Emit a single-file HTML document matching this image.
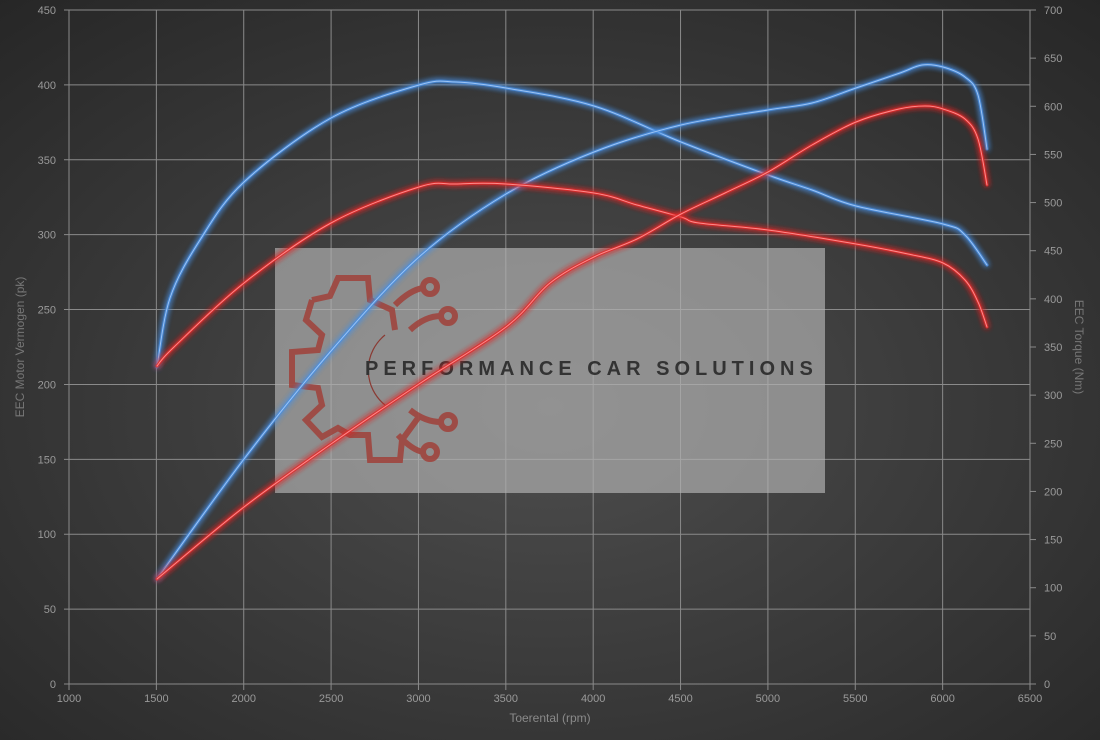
<!DOCTYPE html>
<html><head><meta charset="utf-8"><style>
html,body{margin:0;padding:0;background:#333}
svg{display:block;font-family:"Liberation Sans",sans-serif}
</style></head><body>
<svg id="s" width="1100" height="740" viewBox="0 0 1100 740" xmlns="http://www.w3.org/2000/svg">
<defs>
<radialGradient id="bg" cx="0.5" cy="0.55" r="0.75">
<stop offset="0" stop-color="#4e4e4e"/><stop offset="1" stop-color="#262626"/>
</radialGradient>
<filter id="glow" x="-10%" y="-10%" width="120%" height="120%">
<feGaussianBlur stdDeviation="3" result="b"/>
<feMerge><feMergeNode in="b"/><feMergeNode in="b"/><feMergeNode in="SourceGraphic"/></feMerge>
</filter>
</defs>
<rect width="1100" height="740" fill="url(#bg)"/>
<g id="grid" stroke="#8a8a8a" stroke-width="1"></g>
<g id="labels" fill="#9a9a9a" font-size="11"></g>
<rect x="275" y="248" width="550" height="245" fill="rgba(178,178,178,0.68)"/>
<g fill="none" stroke="#a0413a" stroke-width="6" opacity="0.85">
<path d="M312 300 L330 296 L338 278 L368 278 L370 300 L392 310 L395 330 M312 300 L306 320 L322 335 L318 350 L292 352 L292 385 L318 388 L322 405 L306 420 L322 437 L338 428 L350 435 L368 435 L370 460 L400 460 L402 440 L418 418"/>
<circle cx="430" cy="287" r="7"/><circle cx="448" cy="316" r="7"/><circle cx="448" cy="422" r="7"/><circle cx="430" cy="452" r="7"/>
<path d="M395 305 Q410 290 423 288 M410 330 Q425 316 441 316 M410 410 Q425 422 441 422 M398 435 Q412 450 423 452"/>
</g>
<path d="M385 335 A45 45 0 0 0 385 405" fill="none" stroke="#8a3a33" stroke-width="1.2"/>
<text x="365" y="375" font-size="20" font-weight="bold" letter-spacing="5" fill="#333">PERFORMANCE CAR SOLUTIONS</text>
<g id="curves" fill="none" stroke-linecap="round" stroke-linejoin="round"></g>
<text x="550" y="722" text-anchor="middle" font-size="12" fill="#8a8a8a">Toerental (rpm)</text>
<text transform="translate(24,347) rotate(-90)" text-anchor="middle" font-size="12" fill="#777">EEC Motor Vermogen (pk)</text>
<text transform="translate(1075,347) rotate(90)" text-anchor="middle" font-size="12" fill="#777">EEC Torque (Nm)</text>
</svg>
<script>
var NS="http://www.w3.org/2000/svg";
function el(p,t,a,txt){var e=document.createElementNS(NS,t);for(var k in a)e.setAttribute(k,a[k]);if(txt!=null)e.textContent=txt;p.appendChild(e);return e;}
var g=document.getElementById('grid'),L=document.getElementById('labels');
function X(r){return 69+(r-1000)*961/5500;}
for(var r=1000;r<=6500;r+=500){var x=X(r);el(g,'line',{x1:x,y1:10,x2:x,y2:690});el(L,'text',{x:x,y:702,'text-anchor':'middle'},r);}
for(var p=0;p<=450;p+=50){var y=684-p*674/450;el(g,'line',{x1:64,y1:y,x2:1030,y2:y});el(L,'text',{x:56,y:y+4,'text-anchor':'end'},p);}
for(var t=0;t<=700;t+=50){var y=684-t*674/700;el(g,'line',{x1:1030,y1:y,x2:1036,y2:y});el(L,'text',{x:1044,y:y+4},t);}
el(g,'line',{x1:1030,y1:10,x2:1030,y2:684});
function path(pts){var d="M"+pts[0][0]+" "+pts[0][1];for(var i=0;i<pts.length-1;i++){var p0=pts[i-1]||pts[i],p1=pts[i],p2=pts[i+1],p3=pts[i+2]||p2;
d+=" C"+(p1[0]+(p2[0]-p0[0])/6)+" "+(p1[1]+(p2[1]-p0[1])/6)+" "+(p2[0]-(p3[0]-p1[0])/6)+" "+(p2[1]-(p3[1]-p1[1])/6)+" "+p2[0]+" "+p2[1];}return d;}
var C=document.getElementById('curves');
var blueA=[[157,367],[170,298],[200,240],[244,182],[331,118],[419,85],[456,82],[506,88],[594,106],[681,142],[768,175],[812,190],[856,206],[943,224],[965,235],[987,265]];
var blueB=[[157,579],[244,459],[331,351],[419,257],[506,194],[594,152],[681,125],[768,110],[812,103],[856,88],[900,73],[922,65],[943,67],[965,77],[978,95],[987,149]];
var redA=[[157,366],[174,347],[244,283],[331,223],[419,187],[456,184],[506,184],[594,193],[637,205],[681,217],[699,223],[768,230],[856,244],[908,254],[943,263],[965,280],[978,302],[987,327]];
var redB=[[157,579],[244,507],[331,444],[419,384],[506,327],[550,283],[594,257],[637,239],[681,214],[725,193],[768,172],[812,145],[856,122],[899,109],[925,106],[943,109],[965,119],[978,139],[987,185]];
[[blueA,'#4a8ee0'],[blueB,'#4a8ee0'],[redA,'#e02a2a'],[redB,'#e02a2a']].forEach(function(c){
el(C,'path',{d:path(c[0]),stroke:c[1],'stroke-width':3,filter:'url(#glow)',opacity:0.9});
el(C,'path',{d:path(c[0]),stroke:c[1]=='#4a8ee0'?'#9cc4f5':'#ff8a8a','stroke-width':1});});
</script>
</body></html>
